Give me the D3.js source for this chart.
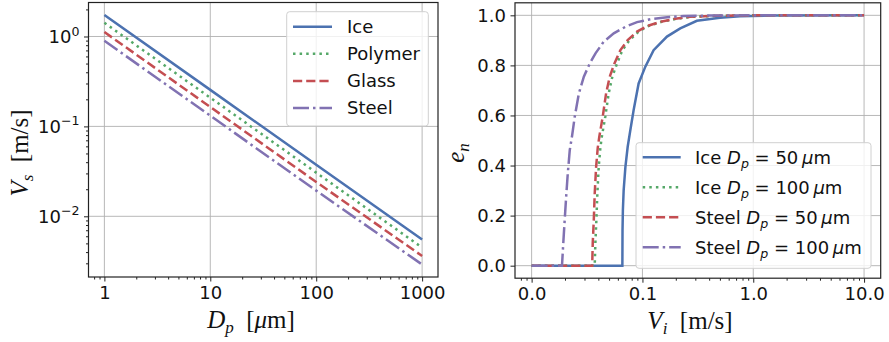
<!DOCTYPE html>
<html><head><meta charset="utf-8">
<script src="https://cdn.jsdelivr.net/npm/d3@7"></script>
<style>body{margin:0;background:#fff}</style>
</head><body>
<svg id="c" width="889" height="342" xmlns="http://www.w3.org/2000/svg"></svg>
<script>
// ---------- Left panel data: settling velocity vs particle diameter ----------
const dpValues = [1, 10, 100, 1000];
const vsIce     = [1.735, 0.2547, 0.0374, 0.00552];
const vsPolymer = [1.42, 0.2085, 0.0306, 0.00449];
const vsGlass   = [1.12, 0.1644, 0.0241, 0.00362];
const vsSteel   = [0.895, 0.1314, 0.0193, 0.00291];
const materials = ["Ice", "Polymer", "Glass", "Steel"];
const leftXTicks = [1, 10, 100, 1000];
const leftYTicks = [0.01, 0.1, 1];
const leftYTickExp = ["\u22122", "\u22121", "0"];

// ---------- Right panel data: restitution coefficient vs impact velocity ----------
const viIce50 = [0.01, 0.0659, 0.0661, 0.0666, 0.0677, 0.0702, 0.0736, 0.0778, 0.0833, 0.0924, 0.1062, 0.1261, 0.1665, 0.2194, 0.31, 0.5, 0.76, 1.5, 10];
const enIce50 = [0, 0, 0.14, 0.22, 0.302, 0.395, 0.475, 0.542, 0.622, 0.728, 0.795, 0.861, 0.915, 0.948, 0.978, 0.99, 0.996, 0.999, 1];
const viIce100 = [0.01, 0.0371, 0.0376, 0.0384, 0.0392, 0.0403, 0.0417, 0.0430, 0.0462, 0.0496, 0.0535, 0.0590, 0.0660, 0.0765, 0.0925, 0.113, 0.149, 0.196, 0.277, 0.46, 1, 10];
const enIce100 = [0, 0, 0.09, 0.183, 0.289, 0.395, 0.47, 0.515, 0.595, 0.688, 0.755, 0.808, 0.861, 0.901, 0.935, 0.957, 0.974, 0.985, 0.994, 0.998, 1, 1];
const viSteel50 = [0.01, 0.0352, 0.0356, 0.0364, 0.0371, 0.0382, 0.0395, 0.0408, 0.0438, 0.0470, 0.0507, 0.0559, 0.0633, 0.0736, 0.0894, 0.110, 0.145, 0.191, 0.270, 0.45, 1, 10];
const enSteel50 = [0, 0, 0.09, 0.183, 0.289, 0.395, 0.47, 0.515, 0.595, 0.688, 0.755, 0.808, 0.861, 0.901, 0.935, 0.957, 0.974, 0.985, 0.994, 0.998, 1, 1];
const viSteel100 = [0.01, 0.0188, 0.0193, 0.0198, 0.0205, 0.0212, 0.0221, 0.0232, 0.0245, 0.0267, 0.0296, 0.0335, 0.0377, 0.0448, 0.0551, 0.0702, 0.0894, 0.118, 0.167, 0.235, 0.4, 1, 10];
const enSteel100 = [0, 0, 0.09, 0.17, 0.276, 0.369, 0.462, 0.52, 0.595, 0.688, 0.755, 0.808, 0.848, 0.895, 0.928, 0.954, 0.973, 0.984, 0.992, 0.997, 0.999, 1, 1];
const rightMaterial = ["Ice", "Ice", "Steel", "Steel"];
const rightDp = ["50", "100", "50", "100"];
const rightXTicks = [0.01, 0.1, 1, 10];
const rightYTicks = [0, 0.2, 0.4, 0.6, 0.8, 1.0];

// ---------- styles ----------
const colors = ["#4C72B0", "#55A868", "#C44E52", "#8172B2"];
const LW = 2.5;
const dashes = [null, "2.5,4.1", "9.2,4", "16,4,2.5,4"];
const TICKFONT = "DejaVu Sans";
const MATHFONT = "Liberation Serif";

const svg = d3.select("#c");
svg.append("rect").attr("width", 889).attr("height", 342).attr("fill", "#fff");

function minorLog(domain) {
  const out = [];
  const lo = Math.floor(Math.log10(domain[0])) - 1, hi = Math.ceil(Math.log10(domain[1]));
  for (let e = lo; e <= hi; e++) for (let k = 2; k <= 9; k++) {
    const v = k * Math.pow(10, e);
    if (v >= domain[0] && v <= domain[1]) out.push(v);
  }
  return out;
}
function styleAxis(g) {
  g.select(".domain").remove();
  g.selectAll("line").attr("stroke", "#222").attr("stroke-width", 1);
  g.selectAll("text").attr("font-family", TICKFONT).attr("font-size", 18).attr("fill", "#111");
}
function grid(g, x, y, xt, yt, box) {
  const gg = g.append("g").attr("stroke", "#b0b0b0").attr("stroke-width", 0.9);
  xt.forEach(v => gg.append("line").attr("x1", x(v)).attr("x2", x(v)).attr("y1", box.t).attr("y2", box.b));
  yt.forEach(v => gg.append("line").attr("y1", y(v)).attr("y2", y(v)).attr("x1", box.l).attr("x2", box.r));
}
function spines(box) {
  svg.append("rect").attr("x", box.l).attr("y", box.t).attr("width", box.r - box.l).attr("height", box.b - box.t)
    .attr("fill", "none").attr("stroke", "#222").attr("stroke-width", 1.2);
}
function clip(id, box) {
  svg.append("clipPath").attr("id", id).append("rect")
    .attr("x", box.l).attr("y", box.t).attr("width", box.r - box.l).attr("height", box.b - box.t);
}

// =============== LEFT PANEL ===============
const LB = {l: 88.5, r: 438, t: 2.5, b: 277};
const lx = d3.scaleLog().domain([Math.pow(10, -0.15), Math.pow(10, 3.15)]).range([LB.l, LB.r]);
const ly = d3.scaleLog().domain([Math.pow(10, -2.675), Math.pow(10, 0.378)]).range([LB.b, LB.t]);
grid(svg, lx, ly, leftXTicks, leftYTicks, LB);
clip("clipL", LB);
const leftSeries = [vsIce, vsPolymer, vsGlass, vsSteel];
const gl = svg.append("g").attr("clip-path", "url(#clipL)");
leftSeries.forEach((s, i) => {
  const pts = dpValues.map((d, j) => [d, s[j]]);
  gl.append("path").attr("d", d3.line().x(d => lx(d[0])).y(d => ly(d[1]))(pts))
    .attr("fill", "none").attr("stroke", colors[i]).attr("stroke-width", LW)
    .attr("stroke-dasharray", dashes[i]);
});
// axes
styleAxis(svg.append("g").attr("transform", `translate(0,${LB.b})`)
  .call(d3.axisBottom(lx).tickValues(leftXTicks).tickFormat(d3.format("d")).tickSize(4.5).tickPadding(4.5).tickSizeOuter(0)));
styleAxis(svg.append("g").attr("transform", `translate(0,${LB.b})`)
  .call(d3.axisBottom(lx).tickValues(minorLog(lx.domain())).tickFormat("").tickSize(2.5).tickSizeOuter(0)));
styleAxis(svg.append("g").attr("transform", `translate(${LB.l},0)`)
  .call(d3.axisLeft(ly).tickValues(leftYTicks).tickFormat("").tickSize(4.5).tickSizeOuter(0)));
styleAxis(svg.append("g").attr("transform", `translate(${LB.l},0)`)
  .call(d3.axisLeft(ly).tickValues(minorLog(ly.domain())).tickFormat("").tickSize(2.5).tickSizeOuter(0)));
leftYTicks.forEach((v, i) => {
  const t = svg.append("text").attr("x", LB.l - 9).attr("y", ly(v)).attr("dy", "0.36em")
    .attr("text-anchor", "end").attr("font-family", TICKFONT).attr("font-size", 18).attr("fill", "#111");
  t.append("tspan").text("10");
  t.append("tspan").attr("font-size", 12.6).attr("dy", -7.4).text(leftYTickExp[i]);
});
// legend
const legL = svg.append("g");
legL.append("rect").attr("x", 286.7).attr("y", 11.7).attr("width", 141.6).attr("height", 114.3).attr("rx", 3)
  .attr("fill", "#fff").attr("fill-opacity", 0.8).attr("stroke", "#d0d0d0").attr("stroke-width", 1);
materials.forEach((m, i) => {
  const yy = 26.7 + i * 27.1;
  legL.append("line").attr("x1", 293).attr("x2", 332).attr("y1", yy).attr("y2", yy)
    .attr("stroke", colors[i]).attr("stroke-width", LW).attr("stroke-dasharray", dashes[i]);
  legL.append("text").attr("x", 347).attr("y", yy).attr("dy", "0.36em")
    .attr("font-family", TICKFONT).attr("font-size", 18).attr("fill", "#111").text(m);
});
spines(LB);
// axis titles
{
  const t = svg.append("text").attr("x", 251).attr("y", 328).attr("text-anchor", "middle")
    .attr("font-family", MATHFONT).attr("font-size", 25).attr("fill", "#111");
  t.append("tspan").attr("font-style", "italic").text("D");
  t.append("tspan").attr("font-style", "italic").attr("font-size", 17).attr("dy", 5).text("p");
  t.append("tspan").attr("dy", -5).text("\u2002[");
  t.append("tspan").attr("font-style", "italic").text("\u03bc");
  t.append("tspan").text("m]");
}
{
  const t = svg.append("text").attr("transform", "translate(28,153) rotate(-90)").attr("text-anchor", "middle")
    .attr("font-family", MATHFONT).attr("font-size", 25).attr("fill", "#111");
  t.append("tspan").attr("font-style", "italic").text("V");
  t.append("tspan").attr("font-style", "italic").attr("font-size", 17).attr("dy", 5).text("s");
  t.append("tspan").attr("dy", -5).text("\u2002[m/s]");
}

// =============== RIGHT PANEL ===============
const RB = {l: 515, r: 880.7, t: 2.8, b: 278.2};
const rx = d3.scaleLog().domain([Math.pow(10, -2.15), Math.pow(10, 1.15)]).range([RB.l, RB.r]);
const ry = d3.scaleLinear().domain([-0.05, 1.05]).range([RB.b, RB.t]);
grid(svg, rx, ry, rightXTicks, rightYTicks, RB);
clip("clipR", RB);
const rightSeries = [[viIce50, enIce50], [viIce100, enIce100], [viSteel50, enSteel50], [viSteel100, enSteel100]];
const gr = svg.append("g").attr("clip-path", "url(#clipR)");
rightSeries.forEach((s, i) => {
  const pts = s[0].map((v, j) => [v, s[1][j]]);
  gr.append("path").attr("d", d3.line().x(d => rx(d[0])).y(d => ry(d[1]))(pts))
    .attr("fill", "none").attr("stroke", colors[i]).attr("stroke-width", LW)
    .attr("stroke-dasharray", dashes[i]);
});
styleAxis(svg.append("g").attr("transform", `translate(0,${RB.b})`)
  .call(d3.axisBottom(rx).tickValues(rightXTicks).tickFormat(d3.format(".1f")).tickSize(4.5).tickPadding(4.5).tickSizeOuter(0)));
styleAxis(svg.append("g").attr("transform", `translate(0,${RB.b})`)
  .call(d3.axisBottom(rx).tickValues(minorLog(rx.domain())).tickFormat("").tickSize(2.5).tickSizeOuter(0)));
styleAxis(svg.append("g").attr("transform", `translate(${RB.l},0)`)
  .call(d3.axisLeft(ry).tickValues(rightYTicks).tickFormat(d3.format(".1f")).tickSize(4.5).tickPadding(4.5).tickSizeOuter(0)));
// legend
const legR = svg.append("g");
legR.append("rect").attr("x", 636).attr("y", 142.7).attr("width", 235).attr("height", 125.6).attr("rx", 3)
  .attr("fill", "#fff").attr("fill-opacity", 0.8).attr("stroke", "#d0d0d0").attr("stroke-width", 1);
rightMaterial.forEach((m, i) => {
  const yy = 157.3 + i * 30;
  legR.append("line").attr("x1", 642.7).attr("x2", 680.7).attr("y1", yy).attr("y2", yy)
    .attr("stroke", colors[i]).attr("stroke-width", LW).attr("stroke-dasharray", dashes[i]);
  const t = legR.append("text").attr("x", 695).attr("y", yy).attr("dy", "0.36em")
    .attr("font-family", TICKFONT).attr("font-size", 18).attr("fill", "#111");
  t.append("tspan").text(m + " ");
  t.append("tspan").attr("font-style", "italic").text("D");
  t.append("tspan").attr("font-style", "italic").attr("font-size", 12.6).attr("dy", 4).text("p");
  t.append("tspan").attr("dy", -4).text(" = " + rightDp[i] + "\u2009");
  t.append("tspan").attr("font-style", "italic").text("\u03bc");
  t.append("tspan").text("m");
});
spines(RB);
{
  const t = svg.append("text").attr("x", 690).attr("y", 329).attr("text-anchor", "middle")
    .attr("font-family", MATHFONT).attr("font-size", 25).attr("fill", "#111");
  t.append("tspan").attr("font-style", "italic").text("V");
  t.append("tspan").attr("font-style", "italic").attr("font-size", 17).attr("dy", 5).text("i");
  t.append("tspan").attr("dy", -5).text("\u2002[m/s]");
}
{
  const t = svg.append("text").attr("transform", "translate(464,153) rotate(-90)").attr("text-anchor", "middle")
    .attr("font-family", MATHFONT).attr("font-size", 25).attr("fill", "#111");
  t.append("tspan").attr("font-style", "italic").text("e");
  t.append("tspan").attr("font-style", "italic").attr("font-size", 17).attr("dy", 5).text("n");
}
</script>
</body></html>
